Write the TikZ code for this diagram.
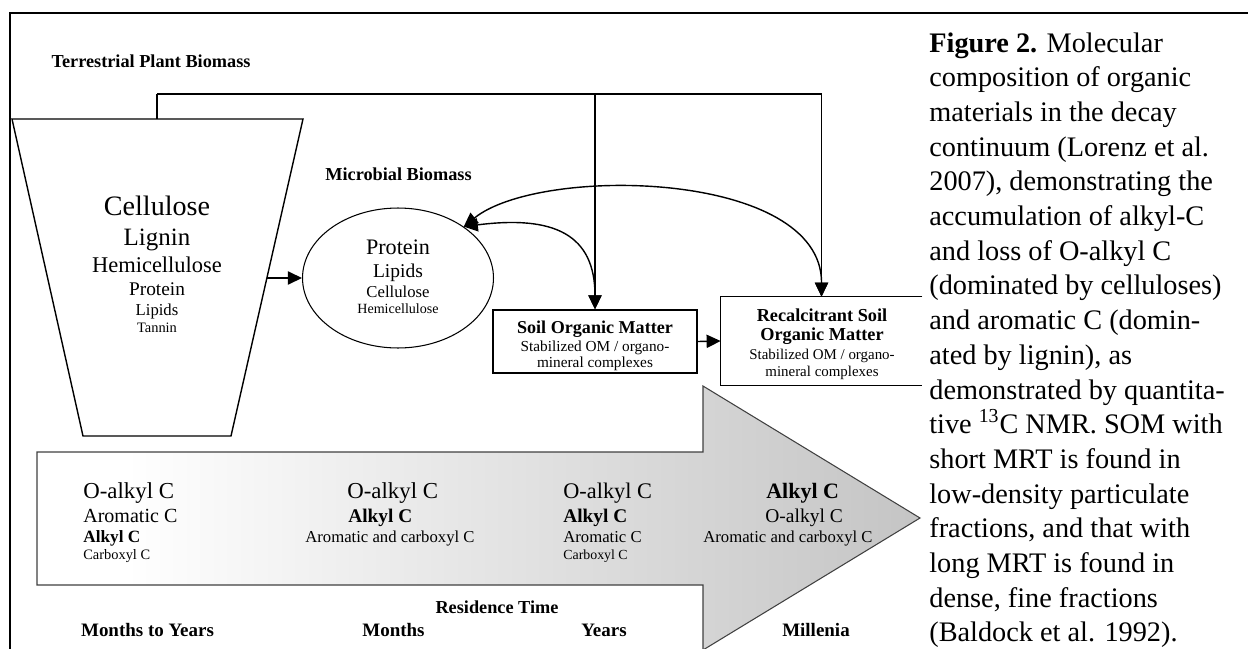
\documentclass[tikz,border=0pt]{standalone}
\usepackage{fontspec}
\setmainfont{Liberation Serif}
\usetikzlibrary{arrows.meta,shapes.geometric}

\newcommand{\fsz}[1]{\fontsize{#1}{#1}\selectfont}
\pgfdeclarehorizontalshading{timeshade}{100bp}{color(0bp)=(white);
  color(30bp)=(white); color(75bp)=(black!23); color(100bp)=(black!23)}

\tikzset{
  conn/.style={line width=0.8pt,-{Triangle[length=8pt,width=7.5pt]}},
  twoway/.style={line width=0.8pt,
    {Triangle[length=8pt,width=7.5pt]}-{Triangle[length=8pt,width=7.5pt]}},
  txt/.style={anchor=base,inner sep=0pt},
  head/.style={txt,font=\bfseries\fsz{10.4}},
  period/.style={txt,font=\bfseries\fsz{10.8}},
}

\begin{document}
\begin{tikzpicture}[x=0.02cm,y=-0.02cm]
  \useasboundingbox (0,0) rectangle (1248,649);
  % frame
  \draw[line width=1.1pt] (10,649) -- (10,13) -- (1248,13);

  % residence time arrow
  \shadedraw[shading=timeshade,draw=black!75,line width=0.6pt]
    (37,452) -- (703,452) -- (703,386) -- (920,518)
    -- (703,650) -- (703,585) -- (37,585) -- cycle;

  % plant biomass
  \node[head] (tpb) at (151,67) {Terrestrial Plant Biomass};
  \draw[line width=0.8pt] (12,119) -- (303,119) -- (231,436)
    -- (83,436) -- cycle;
  \coordinate (plant-top) at (157,119);
  \coordinate (plant-side) at (267,278);
  \coordinate (feed) at (157,94);
  \foreach \t/\s/\y [count=\i] in {Cellulose/16/215,Lignin/14.2/245,
    Hemicellulose/12.8/272,Protein/11/295,Lipids/9.5/315,
    Tannin/8.2/332}{
    \node[txt,font=\fsz{\s}] (plant-\i) at (157,\y) {\t};
  }

  % microbial biomass
  \node[head] (mb) at (398.5,180) {Microbial Biomass};
  \node[draw,ellipse,line width=0.6pt,minimum width=3.82cm,
    minimum height=2.8cm] (mic) at (398,278) {};
  \foreach \t/\s/\y [count=\i] in {Protein/12.6/254,Lipids/11.1/277,
    Cellulose/9.5/297,Hemicellulose/8/313}{
    \node[txt,font=\fsz{\s}] (mic-\i) at (398,\y) {\t};
  }

  % soil organic matter
  \node[draw,line width=0.8pt,minimum width=4.08cm,
    minimum height=1.26cm] (som) at (595,341.5) {};
  \node[txt,font=\bfseries\fsz{10.3}] (som-1) at (595,333)
    {Soil Organic Matter};
  \node[txt,font=\fsz{8.7}] (som-2) at (595,351)
    {Stabilized OM / organo-};
  \node[txt,font=\fsz{8.7}] (som-3) at (595,367) {mineral complexes};

  % recalcitrant soil organic matter
  \node[minimum width=4.02cm,minimum height=1.76cm] (rsom)
    at (821.5,341) {};
  \draw[line width=0.8pt] (rsom.north east) -- (rsom.north west)
    -- (rsom.south west) -- (rsom.south east);
  \node[txt,font=\bfseries\fsz{10.4}] (rsom-1) at (822,321)
    {Recalcitrant Soil};
  \node[txt,font=\bfseries\fsz{10.4}] (rsom-2) at (822,340)
    {Organic Matter};
  \node[txt,font=\fsz{8.5}] (rsom-3) at (822,359)
    {Stabilized OM / organo-};
  \node[txt,font=\fsz{8.5}] (rsom-4) at (822,376) {mineral complexes};

  % connectors
  \draw[line width=0.8pt] (plant-top) -- (feed);
  \draw[conn] (feed) -| (rsom.north);
  \draw[conn] (som.north |- feed) -- (som.north);
  \draw[conn] (plant-side) -- (mic.west);
  \draw[conn] (som.east) -- (rsom.west);
  \draw[twoway] (mic.38) .. controls (540,165) and (822,170)
    .. (rsom.north);
  \draw[twoway] (mic.38) .. controls (555,215) and (595,235)
    .. (som.north);

  % carbon forms along the arrow
  \foreach \t/\s/\x/\y [count=\i] in {
    O-alkyl C/13/83/498,Aromatic C/11.4/83/522,
    \textbf{Alkyl C}/9.8/83/542,Carboxyl C/8.2/83/559,
    O-alkyl C/13/347/498,\textbf{Alkyl C}/11/348/522,
    Aromatic and carboxyl C/9.5/305/542,
    O-alkyl C/12.7/563/498,\textbf{Alkyl C}/11/563/522,
    Aromatic C/9.5/563/542,Carboxyl C/7.9/563/559,
    \textbf{Alkyl C}/12.5/766/498,O-alkyl C/11.1/765/522,
    Aromatic and carboxyl C/9.5/703/542}{
    \node[txt,anchor=base west,font=\fsz{\s}] (c-\i) at (\x,\y) {\t};
  }

  % residence times
  \node[head] (rt) at (497,613) {Residence Time};
  \foreach \t/\x [count=\i] in {Months to Years/147.5,Months/393.5,
    Years/604,Millenia/816}{
    \node[period] (t-\i) at (\x,636) {\t};
  }

  % caption
  \foreach \t [count=\i] in {{\textbf{Figure 2.} Molecular},
    {composition of organic},{materials in the decay},
    {continuum (Lorenz et al.},{2007), demonstrating the},
    {accumulation of alkyl-C},{and loss of O-alkyl C},
    {(dominated by celluloses)},{and aromatic C (domin-},
    {ated by lignin), as},{demonstrated by quantita-},
    {tive \textsuperscript{13}C NMR. SOM with},{short MRT is found in},
    {low-density particulate},{fractions, and that with},
    {long MRT is found in},{dense, fine fractions},
    {(Baldock et al. 1992).}}{
    \node[txt,anchor=base west,font=\fsz{16.1}] (cap-\i)
      at (929,52+34.7*\i-34.7) {\t};
  }
\end{tikzpicture}
\end{document}
